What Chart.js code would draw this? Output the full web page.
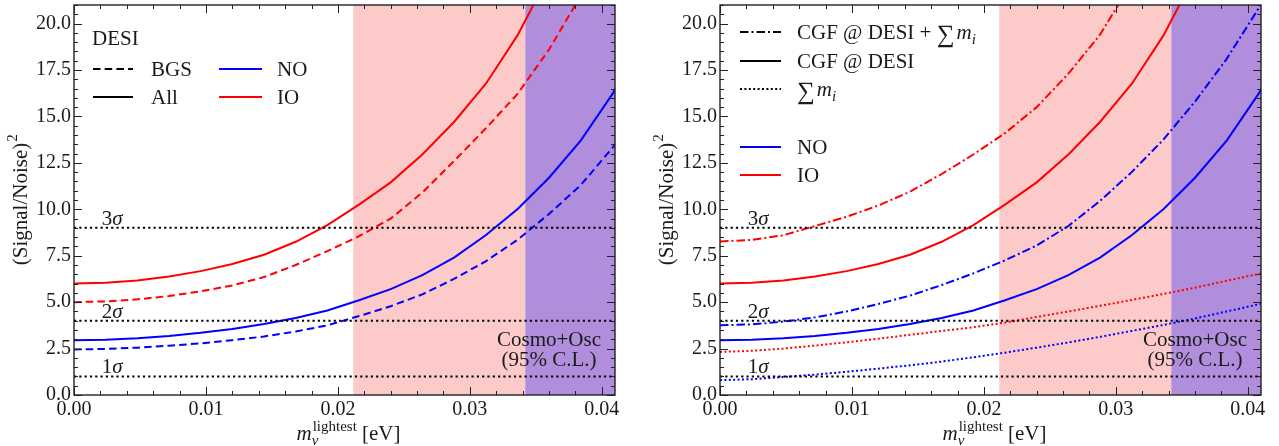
<!DOCTYPE html>
<html>
<head>
<meta charset="utf-8">
<script src="https://cdn.jsdelivr.net/npm/chart.js@4.4.0/dist/chart.umd.min.js"></script>
<style>
  body { margin: 0; background: #fff; width: 1279px; height: 446px; overflow: hidden; position: relative; }
  #left { position: absolute; left: 0; top: 0; }
  #right { position: absolute; left: 640px; top: 0; }
</style>
</head>
<body>
<canvas id="left" width="640" height="446"></canvas>
<canvas id="right" width="639" height="446"></canvas>
<script>
var serif = "'Liberation Serif', 'DejaVu Serif', serif";

// lightest neutrino mass [eV]
var mLight = [0, 0.0024, 0.0048, 0.0072, 0.0096, 0.012, 0.0144, 0.0168, 0.0192, 0.0216,
              0.024, 0.0264, 0.0288, 0.0312, 0.0336, 0.036, 0.0384, 0.0408, 0.0432];

// left panel: DESI BGS / All
var noAll = [2.95, 2.98, 3.06, 3.18, 3.35, 3.56, 3.82, 4.15, 4.55, 5.1, 5.7, 6.45, 7.4, 8.6, 10.0, 11.7, 13.7, 16.2, 19.2];
var ioAll = [6.0, 6.04, 6.17, 6.38, 6.67, 7.05, 7.55, 8.25, 9.15, 10.25, 11.45, 12.95, 14.7, 16.75, 19.35, 22.6, 26.0, 30.0, 34.0];
var noBGS = [2.45, 2.48, 2.55, 2.65, 2.78, 2.95, 3.15, 3.42, 3.75, 4.25, 4.78, 5.42, 6.25, 7.2, 8.35, 9.75, 11.3, 13.3, 15.6];
var ioBGS = [5.0, 5.04, 5.15, 5.33, 5.58, 5.9, 6.35, 7.0, 7.75, 8.55, 9.5, 10.9, 12.6, 14.35, 16.2, 18.6, 21.5, 25.0, 29.0];

// right panel: CGF @ DESI + sum m_i, sum m_i (CGF @ DESI = noAll / ioAll)
var noCGFsum = [3.75, 3.8, 3.95, 4.18, 4.5, 4.9, 5.35, 5.92, 6.55, 7.25, 8.05, 9.1, 10.45, 12.0, 13.75, 15.8, 18.1, 20.8, 23.8];
var ioCGFsum = [8.27, 8.35, 8.6, 9.1, 9.6, 10.2, 10.95, 11.9, 12.95, 14.1, 15.5, 17.3, 19.4, 22.2, 25.0, 28.0, 31.0, 34.0, 37.0];
var noSum = [0.8, 0.85, 0.97, 1.1, 1.25, 1.42, 1.6, 1.8, 2.03, 2.28, 2.55, 2.83, 3.13, 3.45, 3.77, 4.12, 4.5, 4.88, 5.3];
var ioSum = [2.32, 2.38, 2.5, 2.66, 2.84, 3.03, 3.24, 3.45, 3.65, 3.9, 4.2, 4.5, 4.8, 5.12, 5.44, 5.78, 6.15, 6.52, 6.9];

var sigmaLevels = [1, 4, 9];
var sigmaNames = ['1', '2', '3'];
var pinkBand = [0.02116, 0.0342];
var purpleBand = [0.0342, 0.041];
var xMax = 0.041, yMax = 21;

var RED = '#ff0000', BLUE = '#0000ff';
var SOLID = [], DASH = [7.5, 4.2], DASHDOT = [8.5, 3, 2, 3], DOT = [2, 2.4];
var FS = 21; // text size

function pts(ys) {
  return mLight.map(function (m, i) { return { x: m, y: ys[i] }; });
}
function curve(ys, color, dash) {
  return { data: pts(ys), borderColor: color, borderWidth: 2, borderDash: dash,
           pointRadius: 0, tension: 0, fill: false };
}
function sigmaSets() {
  return sigmaLevels.map(function (s) {
    return { data: [{ x: 0, y: s }, { x: xMax, y: s }], borderColor: '#000', borderWidth: 2,
             borderDash: [2.2, 3.1], pointRadius: 0, fill: false };
  });
}

function seg(ctx, x1, y1, x2, y2) {
  ctx.beginPath(); ctx.moveTo(x1, y1); ctx.lineTo(x2, y2); ctx.stroke();
}
function legendLine(ctx, x1, x2, y, color, dash) {
  ctx.save();
  ctx.strokeStyle = color; ctx.lineWidth = 2; ctx.setLineDash(dash);
  seg(ctx, x1, y, x2, y);
  ctx.restore();
}
function txt(ctx, s, x, y, size, italic, align) {
  ctx.font = (italic ? 'italic ' : '') + size + 'px ' + serif;
  ctx.textAlign = align || 'left';
  ctx.fillText(s, x, y);
  return ctx.measureText(s).width;
}
function sumMi(ctx, x, y) {
  var w = txt(ctx, '\u2211', x, y + 3, 25, false);
  var w2 = txt(ctx, 'm', x + w + 2, y, FS, true);
  txt(ctx, 'i', x + w + w2 + 2, y + 5, 15, true);
}

var bands = {
  id: 'bands',
  beforeDatasetsDraw: function (chart) {
    var ctx = chart.ctx, a = chart.chartArea, xs = chart.scales.x;
    ctx.save();
    ctx.fillStyle = 'rgb(253,202,202)';
    var p1 = xs.getPixelForValue(pinkBand[0]), p2 = xs.getPixelForValue(pinkBand[1]);
    ctx.fillRect(p1, a.top, p2 - p1, a.bottom - a.top);
    ctx.fillStyle = 'rgb(176,142,219)';
    var q1 = xs.getPixelForValue(purpleBand[0]), q2 = xs.getPixelForValue(purpleBand[1]);
    ctx.fillRect(q1, a.top, q2 - q1, a.bottom - a.top);
    ctx.restore();
  }
};

function decorate(chart, legendFn) {
  var ctx = chart.ctx, a = chart.chartArea, xs = chart.scales.x, ys = chart.scales.y;
  ctx.save();
  // inward ticks, all four sides
  ctx.strokeStyle = '#222'; ctx.lineWidth = 1;
  for (var i = 0; i <= 20; i++) {
    var v = i * 0.002; if (v > xMax + 1e-9) break;
    var px = Math.round(xs.getPixelForValue(v)) + 0.5, L = (i % 5 === 0) ? 8 : 4;
    seg(ctx, px, a.bottom, px, a.bottom - L); seg(ctx, px, a.top, px, a.top + L);
  }
  for (var j = 0; j <= 42; j++) {
    var w = j * 0.5; if (w > yMax) break;
    var py = Math.round(ys.getPixelForValue(w)) + 0.5, M = (j % 5 === 0) ? 8 : 4;
    seg(ctx, a.left, py, a.left + M, py); seg(ctx, a.right, py, a.right - M, py);
  }
  ctx.lineWidth = 1.4;
  ctx.strokeRect(a.left, a.top, a.right - a.left, a.bottom - a.top);

  ctx.fillStyle = '#1a1a1a';
  ctx.textBaseline = 'alphabetic';
  // sigma labels
  sigmaLevels.forEach(function (s, k) {
    var x0 = xs.getPixelForValue(0.0021), y0 = ys.getPixelForValue(s) - 3;
    var w1 = txt(ctx, sigmaNames[k], x0, y0, FS, false);
    txt(ctx, '\u03c3', x0 + w1, y0, FS, true);
  });
  // Cosmo+Osc
  var cx = xs.getPixelForValue(0.036);
  txt(ctx, 'Cosmo+Osc', cx, ys.getPixelForValue(2.65), FS, false, 'center');
  txt(ctx, '(95% C.L.)', cx, ys.getPixelForValue(1.55), FS, false, 'center');

  // x title
  ctx.font = 'italic ' + FS + 'px ' + serif; var wm = ctx.measureText('m').width;
  ctx.font = '15px ' + serif; var wl = ctx.measureText('lightest').width;
  ctx.font = FS + 'px ' + serif; var we = ctx.measureText(' [eV]').width;
  var tx = (a.left + a.right) / 2 + 4 - (wm + wl + 1 + we) / 2, tb = 440;
  txt(ctx, 'm', tx, tb, FS, true);
  txt(ctx, '\u03bd', tx + wm, tb + 5, 15, true);
  txt(ctx, 'lightest', tx + wm + 1, tb - 9, 15, false);
  txt(ctx, ' [eV]', tx + wm + wl + 1, tb, FS, false);

  // y title
  ctx.save();
  ctx.translate(a.left - 47, (a.top + a.bottom) / 2);
  ctx.rotate(-Math.PI / 2);
  ctx.font = FS + 'px ' + serif; var w1 = ctx.measureText('(Signal/Noise)').width;
  var y0 = -(w1 + 8) / 2;
  txt(ctx, '(Signal/Noise)', y0, 0, FS, false);
  txt(ctx, '2', y0 + w1 + 1, -10, 15, false);
  ctx.restore();

  legendFn(ctx, a);
  ctx.restore();
}

function leftLegend(ctx, a) {
  var L = a.left;
  txt(ctx, 'DESI', L + 18, 45, FS, false);
  legendLine(ctx, L + 19, L + 59, 69, '#000', DASH);
  txt(ctx, 'BGS', L + 77, 76, FS, false);
  legendLine(ctx, L + 19, L + 59, 97, '#000', SOLID);
  txt(ctx, 'All', L + 77, 104, FS, false);
  legendLine(ctx, L + 145, L + 188, 69, BLUE, SOLID);
  txt(ctx, 'NO', L + 203, 76, FS, false);
  legendLine(ctx, L + 145, L + 188, 97, RED, SOLID);
  txt(ctx, 'IO', L + 203, 104, FS, false);
}

function rightLegend(ctx, a) {
  var L = a.left;
  legendLine(ctx, L + 20, L + 61, 32, '#000', DASHDOT);
  var w = txt(ctx, 'CGF @ DESI + ', L + 77, 39, FS, false);
  sumMi(ctx, L + 77 + w, 39);
  legendLine(ctx, L + 20, L + 61, 61, '#000', SOLID);
  txt(ctx, 'CGF @ DESI', L + 77, 68, FS, false);
  legendLine(ctx, L + 20, L + 61, 89, '#000', DOT);
  sumMi(ctx, L + 77, 96);
  legendLine(ctx, L + 20, L + 61, 147, BLUE, SOLID);
  txt(ctx, 'NO', L + 77, 154, FS, false);
  legendLine(ctx, L + 20, L + 61, 175, RED, SOLID);
  txt(ctx, 'IO', L + 77, 182, FS, false);
}

function makeChart(id, datasets, yWidth, padRight, legendFn) {
  return new Chart(id, {
    type: 'line',
    data: { datasets: datasets },
    options: {
      responsive: false,
      animation: false,
      events: [],
      layout: { padding: { left: 0, right: padRight, top: 5, bottom: 0 } },
      plugins: { legend: { display: false }, tooltip: { enabled: false } },
      scales: {
        x: {
          type: 'linear', min: 0, max: xMax,
          grid: { display: false, drawTicks: false },
          border: { display: false },
          ticks: { stepSize: 0.01, includeBounds: false, padding: 3, color: '#1a1a1a', maxRotation: 0,
                   font: { family: serif, size: 20 },
                   callback: function (v) { return v.toFixed(2); } },
          afterFit: function (s) { s.height = 51; s.paddingLeft = 0; s.paddingRight = 0; }
        },
        y: {
          min: 0, max: yMax,
          grid: { display: false, drawTicks: false },
          border: { display: false },
          ticks: { stepSize: 2.5, includeBounds: false, padding: 3, color: '#1a1a1a',
                   font: { family: serif, size: 20 },
                   callback: function (v) { return v.toFixed(1); } },
          afterFit: function (s) { s.width = yWidth; s.paddingTop = 0; s.paddingBottom = 0; }
        }
      }
    },
    plugins: [bands, { id: 'deco', afterDraw: function (c) { decorate(c, legendFn); } }]
  });
}

makeChart('left', sigmaSets().concat([
  curve(noBGS, BLUE, DASH),
  curve(ioBGS, RED, DASH),
  curve(noAll, BLUE, SOLID),
  curve(ioAll, RED, SOLID)
]), 74, 25, leftLegend);

makeChart('right', sigmaSets().concat([
  curve(noSum, BLUE, DOT),
  curve(ioSum, RED, DOT),
  curve(noCGFsum, BLUE, DASHDOT),
  curve(ioCGFsum, RED, DASHDOT),
  curve(noAll, BLUE, SOLID),
  curve(ioAll, RED, SOLID)
]), 80, 18, rightLegend);
</script>
</body>
</html>
